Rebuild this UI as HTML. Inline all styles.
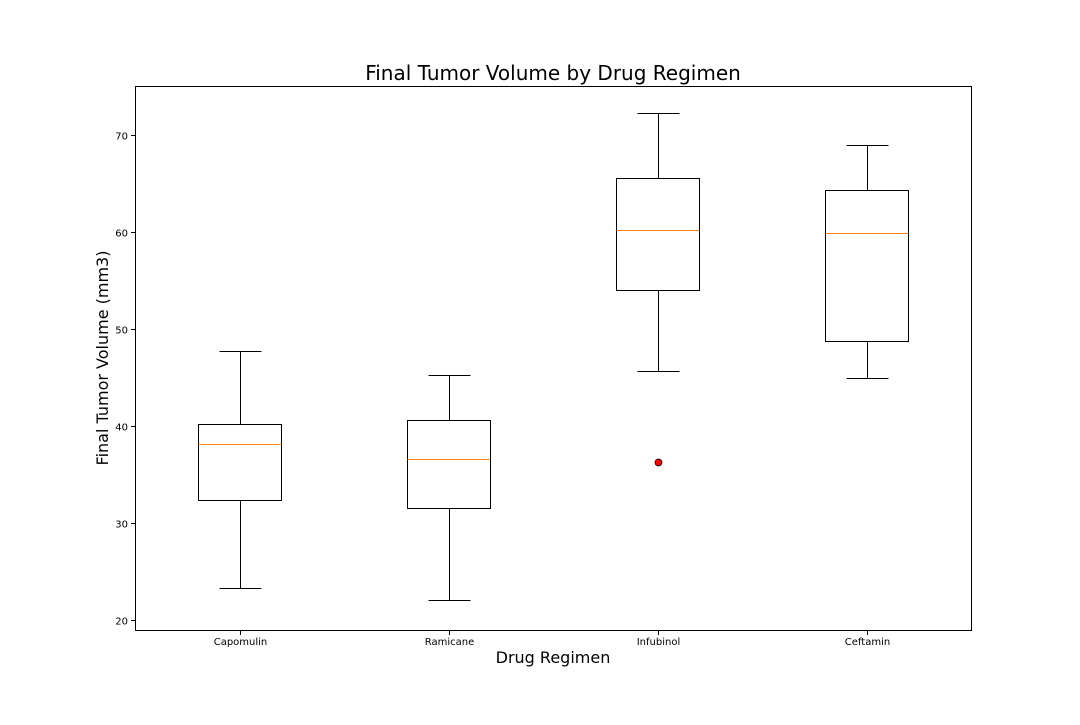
<!DOCTYPE html>
<html><head><meta charset="utf-8"><style>
body{margin:0;background:#fff;}
svg text{font-family:"DejaVu Sans","Liberation Sans",sans-serif;}
</style></head><body>
<svg id="chart" width="1080" height="720">
<rect x="0" y="0" width="1080" height="720" fill="#fff"/>
<text x="553" y="80" text-anchor="middle" font-size="20">Final Tumor Volume by Drug Regimen</text>
<text x="553" y="663" text-anchor="middle" font-size="16">Drug Regimen</text>
<text transform="translate(108,358) rotate(-90)" text-anchor="middle" font-size="16">Final Tumor Volume (mm3)</text>
<g id="plot"></g>
<rect x="135.5" y="86.5" width="836" height="544" fill="none" stroke="#000" stroke-width="1"/>
</svg>
<script>
const categories=["Capomulin","Ramicane","Infubinol","Ceftamin"];
const mins=[23.34,22.05,45.70,45.00];
const q1s=[32.38,31.56,54.05,48.72];
const medians=[38.13,36.56,60.17,59.85];
const q3s=[40.16,40.66,65.53,64.30];
const maxs=[47.69,45.22,72.23,68.92];
const outliers=[[],[],[36.32],[]];
const yTicks=[20,30,40,50,60,70];
const NS="http://www.w3.org/2000/svg";
const g=document.getElementById('plot');
const y=v=>Math.round(620-(v-20)*9.7)+0.5;
const x=i=>240+i*209+0.5;
function mk(t,a){const e=document.createElementNS(NS,t);for(const k in a)e.setAttribute(k,a[k]);g.appendChild(e);return e;}
yTicks.forEach(v=>{
 const l=mk('line',{x1:131,x2:135,y1:y(v),y2:y(v),stroke:'#000'});
 
 
 const t=mk('text',{x:128,y:y(v)+4,'text-anchor':'end','font-size':10});
 t.textContent=v;
 
 
});
categories.forEach((c,i)=>{
 const cx=x(i);
 const tk=mk('line',{x1:cx,x2:cx,y1:631,y2:635,stroke:'#000'});
 
 
 const t=mk('text',{x:cx,y:645,'text-anchor':'middle','font-size':10});
 t.textContent=c;
 
 
 const w1=mk('line',{x1:cx,x2:cx,y1:y(maxs[i]),y2:y(q3s[i]),stroke:'#000'});
 
 
 const w2=mk('line',{x1:cx,x2:cx,y1:y(q1s[i]),y2:y(mins[i]),stroke:'#000'});
 
 
 const c1=mk('line',{x1:cx-21,x2:cx+21,y1:y(maxs[i]),y2:y(maxs[i]),stroke:'#000'});
 
 
 const c2=mk('line',{x1:cx-21,x2:cx+21,y1:y(mins[i]),y2:y(mins[i]),stroke:'#000'});
 
 
 const b=mk('rect',{x:cx-42,y:y(q3s[i]),width:83,height:y(q1s[i])-y(q3s[i]),fill:'none',stroke:'#000'});
 
 
 const m=mk('line',{x1:cx-42,x2:cx+41,y1:y(medians[i]),y2:y(medians[i]),stroke:'#ff7f0e'});
 
 
 outliers[i].forEach(v=>{
  const o=mk('circle',{cx:cx,cy:y(v),r:3.5,fill:'red',stroke:'#000','stroke-width':0.8});
  
  
 });
});
</script>
</body></html>
